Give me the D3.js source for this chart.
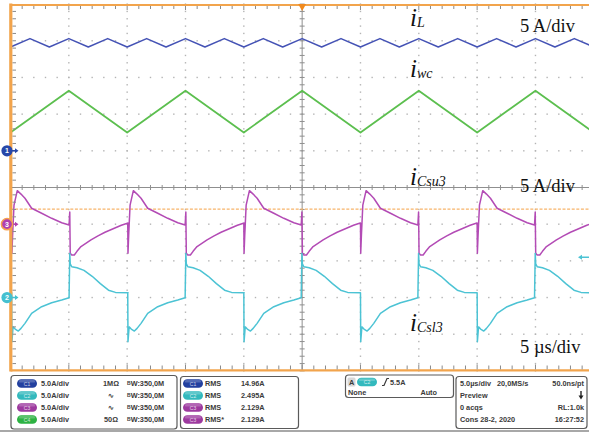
<!DOCTYPE html>
<html>
<head>
<meta charset="utf-8">
<script src="https://cdn.jsdelivr.net/npm/d3@7"></script>
<style>
  body { margin: 0; background: #fff; }
  svg { display: block; }
</style>
</head>
<body>
<svg id="scope" width="589" height="432"></svg>
<script>
// ---- Acquisition data (time in µs, current in A) ----
const timeWindow = [-25, 25];           // 10 div x 5 µs/div
const ampsPerDiv = 5;

// Channel ground offsets, in divisions from screen centre
const offsetC1 = 1;    // iL
const offsetC2 = -3;   // iCsl3
const offsetC3 = -1;   // iCsu3
const offsetC4 = 2;    // iwc

// iL (C1): triangle ripple vertices
const iLTimes = [-25, -23.33, -21.67, -20, -18.33, -16.67, -15, -13.33, -11.67, -10,
  -8.33, -6.67, -5, -3.33, -1.67, 0, 1.67, 3.33, 5, 6.67, 8.33, 10, 11.67, 13.33,
  15, 16.67, 18.33, 20, 21.67, 23.33, 25];
const iLValues = [14.15, 15.3, 14.15, 15.3, 14.15, 15.3, 14.15, 15.3, 14.15, 15.3,
  14.15, 15.3, 14.15, 15.3, 14.15, 15.3, 14.15, 15.3, 14.15, 15.3, 14.15, 15.3, 14.15, 15.3,
  14.15, 15.3, 14.15, 15.3, 14.15, 15.3, 14.15];

// iwc (C4): triangle vertices
const iwcTimes = [-25, -20, -15, -10, -5, 0, 5, 10, 15, 20, 25];
const iwcValues = [-2.5, 3.2, -2.5, 3.2, -2.5, 3.2, -2.5, 3.2, -2.5, 3.2, -2.5];

// Switching period starts (upper-switch turn-on edges)
const periodStarts = [-34.9, -24.9, -14.95, -5.0, 5.0, 15.0];

// iCsu3 (C3): one switching period, time relative to period start
const csuDt = [0, 0.02, 0.08, 0.2, 0.48, 0.8, 1.14, 1.71, 2.57, 3.43, 4.29, 4.92,
  4.98, 5.02, 5.15, 5.37, 5.6, 5.94, 6.8, 7.4, 8.0, 8.8, 9.4, 9.98];
const csuValues = [0.16, -3.97, -1.5, 2.6, 4.57, 4.1, 3.53, 2.17, 1.49, 0.8, 0.2, -0.11,
  1.66, -3.97, -4.2, -4.2, -3.7, -3.05, -2.15, -1.6, -1.1, -0.56, -0.15, 0.16];

// iCsl3 (C2): one switching period, time relative to period start
const cslDt = [0, 0.02, 0.12, 0.3, 0.57, 0.8, 1.14, 1.71, 2.57, 3.43, 4.29, 4.92,
  4.98, 5.02, 5.15, 5.6, 6.2, 6.9, 7.6, 8.3, 8.9, 9.98];
const cslValues = [0.65, -6.02, -4.0, -4.3, -4.57, -4.2, -3.52, -2.15, -1.25, -0.71, -0.34, -0.03,
  6.02, 4.6, 4.2, 4.05, 3.7, 2.9, 1.9, 1.0, 0.7, 0.65];

const triggerLevelC2 = 5.5;     // A, trigger on C2 rising edge
const refLineDiv = -0.59;       // orange reference cursor position (div)

// Status readouts
const chanScale = ["5.0A/div", "5.0A/div", "5.0A/div", "5.0A/div"];
const chanCoupling = ["1MΩ", "∿", "∿", "50Ω"];
const chanBandwidth = ["350,0M", "350,0M", "350,0M", "350,0M"];
const measLabels = ["RMS", "RMS", "RMS", "RMS*"];
const measValues = ["14.96A", "2.495A", "2.129A", "2.129A"];
const measChannels = [1, 2, 3, 3];

// ---- Drawing ----
const svg = d3.select("#scope");
const colors = { c1: "#4553b5", c2: "#4cc3d4", c3: "#b34bb5", c4: "#5cbf4f", orange: "#f2a44c" };
const pillColors = { 1: "#23409f", 2: "#33b9bd", 3: "#9d3a9f", 4: "#2db243" };

const x = d3.scaleLinear().domain(timeWindow).range([10.5, 593.8]);
const yDiv = d3.scaleLinear().domain([-5, 5]).range([370.9, 4.1]);
const yCh = off => v => yDiv(off + v / ampsPerDiv);

svg.append("rect").attr("width", 589).attr("height", 432).attr("fill", "#fff");

// Graticule dots on every non-centre division line
const gDots = svg.append("g").attr("fill", "#b4b4b4");
const hLines = d3.range(-4, 5).filter(d => d !== 0);
const vLines = d3.range(-20, 25, 5).filter(d => d !== 0);
const xMinor = d3.range(-25, 25.01, 1);
const yMinor = d3.range(-5, 5.01, 0.2);
hLines.forEach(dv => {
  gDots.selectAll(null).data(xMinor).join("rect")
    .attr("x", t => x(t) - 0.7).attr("y", yDiv(dv) - 0.7)
    .attr("width", 1.4).attr("height", 1.4);
});
vLines.forEach(t => {
  gDots.selectAll(null).data(yMinor).join("rect")
    .attr("x", x(t) - 0.7).attr("y", dv => yDiv(dv) - 0.7)
    .attr("width", 1.4).attr("height", 1.4);
});

// Centre cross with minor ticks
const gCross = svg.append("g").attr("stroke", "#8f8f8f").attr("stroke-width", 1);
gCross.append("line").attr("x1", x(-25)).attr("x2", 589).attr("y1", yDiv(0)).attr("y2", yDiv(0));
gCross.append("line").attr("x1", x(0)).attr("x2", x(0)).attr("y1", yDiv(5)).attr("y2", yDiv(-5));
gCross.selectAll(null).data(xMinor).join("line")
  .attr("x1", t => x(t)).attr("x2", t => x(t))
  .attr("y1", yDiv(0) - 2.5).attr("y2", yDiv(0) + 2.5);
gCross.selectAll(null).data(yMinor).join("line")
  .attr("y1", d => yDiv(d)).attr("y2", d => yDiv(d))
  .attr("x1", x(0) - 2.5).attr("x2", x(0) + 2.5);

// Reference cursor (dashed orange)
svg.append("line")
  .attr("x1", x(-25)).attr("x2", 589)
  .attr("y1", yDiv(refLineDiv)).attr("y2", yDiv(refLineDiv))
  .attr("stroke", "#f7b46a").attr("stroke-width", 1.4)
  .attr("stroke-dasharray", "3,1.6");

// Traces
svg.append("clipPath").attr("id", "plotClip")
  .append("rect").attr("x", x(-25) + 1.5).attr("y", yDiv(5) + 1).attr("width", 600).attr("height", yDiv(-5) - yDiv(5) - 2);

const gTr = svg.append("g").attr("clip-path", "url(#plotClip)")
  .attr("fill", "none").attr("stroke-linejoin", "round");

function tile(starts, dts, vals) {
  const pts = [];
  starts.forEach(s => dts.forEach((dt, i) => pts.push([s + dt, vals[i]])));
  return pts;
}
function drawTrace(points, off, color, width) {
  const yc = yCh(off);
  const line = d3.line().x(d => x(d[0])).y(d => yc(d[1]));
  gTr.append("path").attr("d", line(points)).attr("stroke", color).attr("stroke-width", width);
}
drawTrace(iLTimes.map((t, i) => [t, iLValues[i]]), offsetC1, colors.c1, 1.5);
drawTrace(iwcTimes.map((t, i) => [t, iwcValues[i]]), offsetC4, colors.c4, 1.8);
drawTrace(tile(periodStarts, csuDt, csuValues), offsetC3, colors.c3, 1.5);
drawTrace(tile(periodStarts, cslDt, cslValues), offsetC2, colors.c2, 1.5);

// Orange frame with ticks
const gFrame = svg.append("g");
gFrame.append("line").attr("x1", x(-25)).attr("x2", 589).attr("y1", 5).attr("y2", 5)
  .attr("stroke", colors.orange).attr("stroke-width", 2.2);
gFrame.append("line").attr("x1", x(-25)).attr("x2", 589).attr("y1", 370.4).attr("y2", 370.4)
  .attr("stroke", colors.orange).attr("stroke-width", 2.2);
gFrame.append("line").attr("x1", x(-25) + 0.3).attr("x2", x(-25) + 0.3).attr("y1", 3.5).attr("y2", 371.5)
  .attr("stroke", colors.orange).attr("stroke-width", 3.2);
const gTicks = svg.append("g").attr("stroke", "#8a8a8a").attr("stroke-width", 1);
gTicks.selectAll(null).data(xMinor.slice(1)).join("line")
  .attr("x1", t => x(t)).attr("x2", t => x(t)).attr("y1", 6).attr("y2", t => (t % 5 === 0 ? 10 : 9));
gTicks.selectAll(null).data(xMinor.slice(1)).join("line")
  .attr("x1", t => x(t)).attr("x2", t => x(t)).attr("y1", 369.4).attr("y2", t => (t % 5 === 0 ? 364.5 : 365.5));
gTicks.selectAll(null).data(yMinor.slice(1, -1)).join("line")
  .attr("y1", d => yDiv(d)).attr("y2", d => yDiv(d)).attr("x1", 12.5).attr("x2", 16);

// Trigger position marker
svg.append("path")
  .attr("d", `M${x(0) - 4},4 L${x(0) + 4},4 L${x(0)},11 Z`)
  .attr("fill", "#f08a1e");

// Channel ground markers
function chMarker(off, label, fill, ring) {
  const cy = yDiv(off);
  const g = svg.append("g");
  g.append("path").attr("d", `M10,${cy - 0.8} L15,${cy - 0.8} L15,${cy - 2.5} L18.5,${cy} L15,${cy + 2.5} L15,${cy + 0.8} L10,${cy + 0.8} Z`).attr("fill", fill);
  g.append("circle").attr("cx", 7).attr("cy", cy).attr("r", 5.6)
    .attr("fill", fill).attr("stroke", ring || "none").attr("stroke-width", 1.5);
  g.append("text").attr("x", 7).attr("y", cy + 2.4).attr("text-anchor", "middle")
    .attr("font-family", "Liberation Sans, Arial, sans-serif").attr("font-size", 7)
    .attr("font-weight", "bold").attr("fill", "#fff").text(label);
}
chMarker(offsetC1, "1", "#2747a8");
chMarker(offsetC3, "3", "#b040b0", "#f5a050");
chMarker(offsetC2, "2", "#45c0d0");

// Trigger level indicator on C2 (right edge)
const yTrig = yCh(offsetC2)(triggerLevelC2);
svg.append("path")
  .attr("d", `M578,${yTrig} L582,${yTrig - 2.5} L582,${yTrig - 0.8} L589,${yTrig - 0.8} L589,${yTrig + 0.8} L582,${yTrig + 0.8} L582,${yTrig + 2.5} Z`)
  .attr("fill", "#4cc3d4");

// Trace annotations
const serif = "Liberation Serif, Times New Roman, serif";
function traceLabel(xp, yp, sub) {
  const t = svg.append("text").attr("x", xp).attr("y", yp)
    .attr("font-family", serif).attr("font-style", "italic").attr("fill", "#111");
  t.append("tspan").attr("font-size", 25).text("i");
  t.append("tspan").attr("font-size", 14).attr("dy", 1).text(sub);
}
traceLabel(410, 26, "L");
traceLabel(410, 77, "wc");
traceLabel(410, 185, "Csu3");
traceLabel(410, 331, "Csl3");
function scaleLabel(yp, txt) {
  svg.append("text").attr("x", 520).attr("y", yp)
    .attr("font-family", serif).attr("font-size", 18.5).attr("fill", "#111").text(txt);
}
scaleLabel(32, "5 A/div");
scaleLabel(192, "5 A/div");
scaleLabel(353, "5 µs/div");

// ---- Status bar ----
const sans = "Liberation Sans, Arial, sans-serif";
svg.append("rect").attr("x", 0).attr("y", 430).attr("width", 589).attr("height", 2).attr("fill", "#a8a8a8");
function box(bx, by, bw, bh) {
  svg.append("rect").attr("x", bx).attr("y", by).attr("width", bw).attr("height", bh)
    .attr("rx", 3).attr("fill", "#fff").attr("stroke", "#5a5a5a").attr("stroke-width", 1.2);
}
function pill(cx, cy, ch) {
  const g = svg.append("g");
  g.append("rect").attr("x", cx - 10).attr("y", cy - 4.3).attr("width", 20).attr("height", 8.6)
    .attr("rx", 4.3).attr("fill", pillColors[ch]);
  g.append("rect").attr("x", cx - 8).attr("y", cy - 3.4).attr("width", 16).attr("height", 2.5)
    .attr("rx", 1.2).attr("fill", "#fff").attr("opacity", 0.22);
  g.append("text").attr("x", cx).attr("y", cy + 2).attr("text-anchor", "middle")
    .attr("font-family", sans).attr("font-size", 5).attr("fill", "#fff").attr("opacity", 0.75).text("C" + ch);
}
function stat(tx, ty, txt, anchor) {
  svg.append("text").attr("x", tx).attr("y", ty).attr("text-anchor", anchor || "start")
    .attr("font-family", sans).attr("font-size", 7.3).attr("font-weight", "bold")
    .attr("fill", "#3a3a3a").text(txt);
}
const rowY = [383.5, 395.5, 407.5, 419.5];

box(11, 375.5, 166, 53.5);
rowY.forEach((ry, i) => {
  pill(27, ry, i + 1);
  stat(41, ry + 2.6, chanScale[i]);
  stat(111, ry + 2.6, chanCoupling[i], "middle");
  const b = svg.append("text").attr("x", 127).attr("y", ry + 2.6)
    .attr("font-family", sans).attr("font-weight", "bold").attr("fill", "#3a3a3a");
  b.append("tspan").attr("font-size", 5).attr("dy", -1.5).text("B");
  b.append("tspan").attr("font-size", 7.3).attr("dy", 1.5).text("W");
  b.append("tspan").attr("font-size", 7.3).text(":" + chanBandwidth[i]);
});

box(180.5, 376.5, 118, 52);
rowY.forEach((ry, i) => {
  pill(193, ry, measChannels[i]);
  stat(205, ry + 2.6, measLabels[i]);
  stat(241, ry + 2.6, measValues[i]);
});

box(345.5, 375, 108, 22.5);
svg.append("rect").attr("x", 347.5).attr("y", 377.5).attr("width", 8).attr("height", 9).attr("rx", 1.5).attr("fill", "#d8d8d8");
stat(349, 385, "A");
pill(367, 382, 2);
svg.append("path").attr("d", "M382,385.5 L384,385.5 L387,378.5 L389,378.5").attr("fill", "none").attr("stroke", "#3a3a3a").attr("stroke-width", 1.2);
stat(390, 385, triggerLevelC2.toFixed(1) + "A");
stat(348, 395, "None");
stat(437, 395, "Auto", "end");

box(456, 376.5, 131, 52);
stat(460, rowY[0] + 2.6, "5.0µs/div");
stat(497, rowY[0] + 2.6, "20,0MS/s");
stat(584, rowY[0] + 2.6, "50.0ns/pt", "end");
stat(460, rowY[1] + 2.6, "Preview");
svg.append("path").attr("d", "M580.3,391 L581.7,391 L581.7,395.5 L583.5,395.5 L581,399.5 L578.5,395.5 L580.3,395.5 Z").attr("fill", "#222");
stat(460, rowY[2] + 2.6, "0 acqs");
stat(584, rowY[2] + 2.6, "RL:1.0k", "end");
stat(460, rowY[3] + 2.6, "Cons  28-2, 2020");
stat(584, rowY[3] + 2.6, "16:27:52", "end");
</script>
</body>
</html>
